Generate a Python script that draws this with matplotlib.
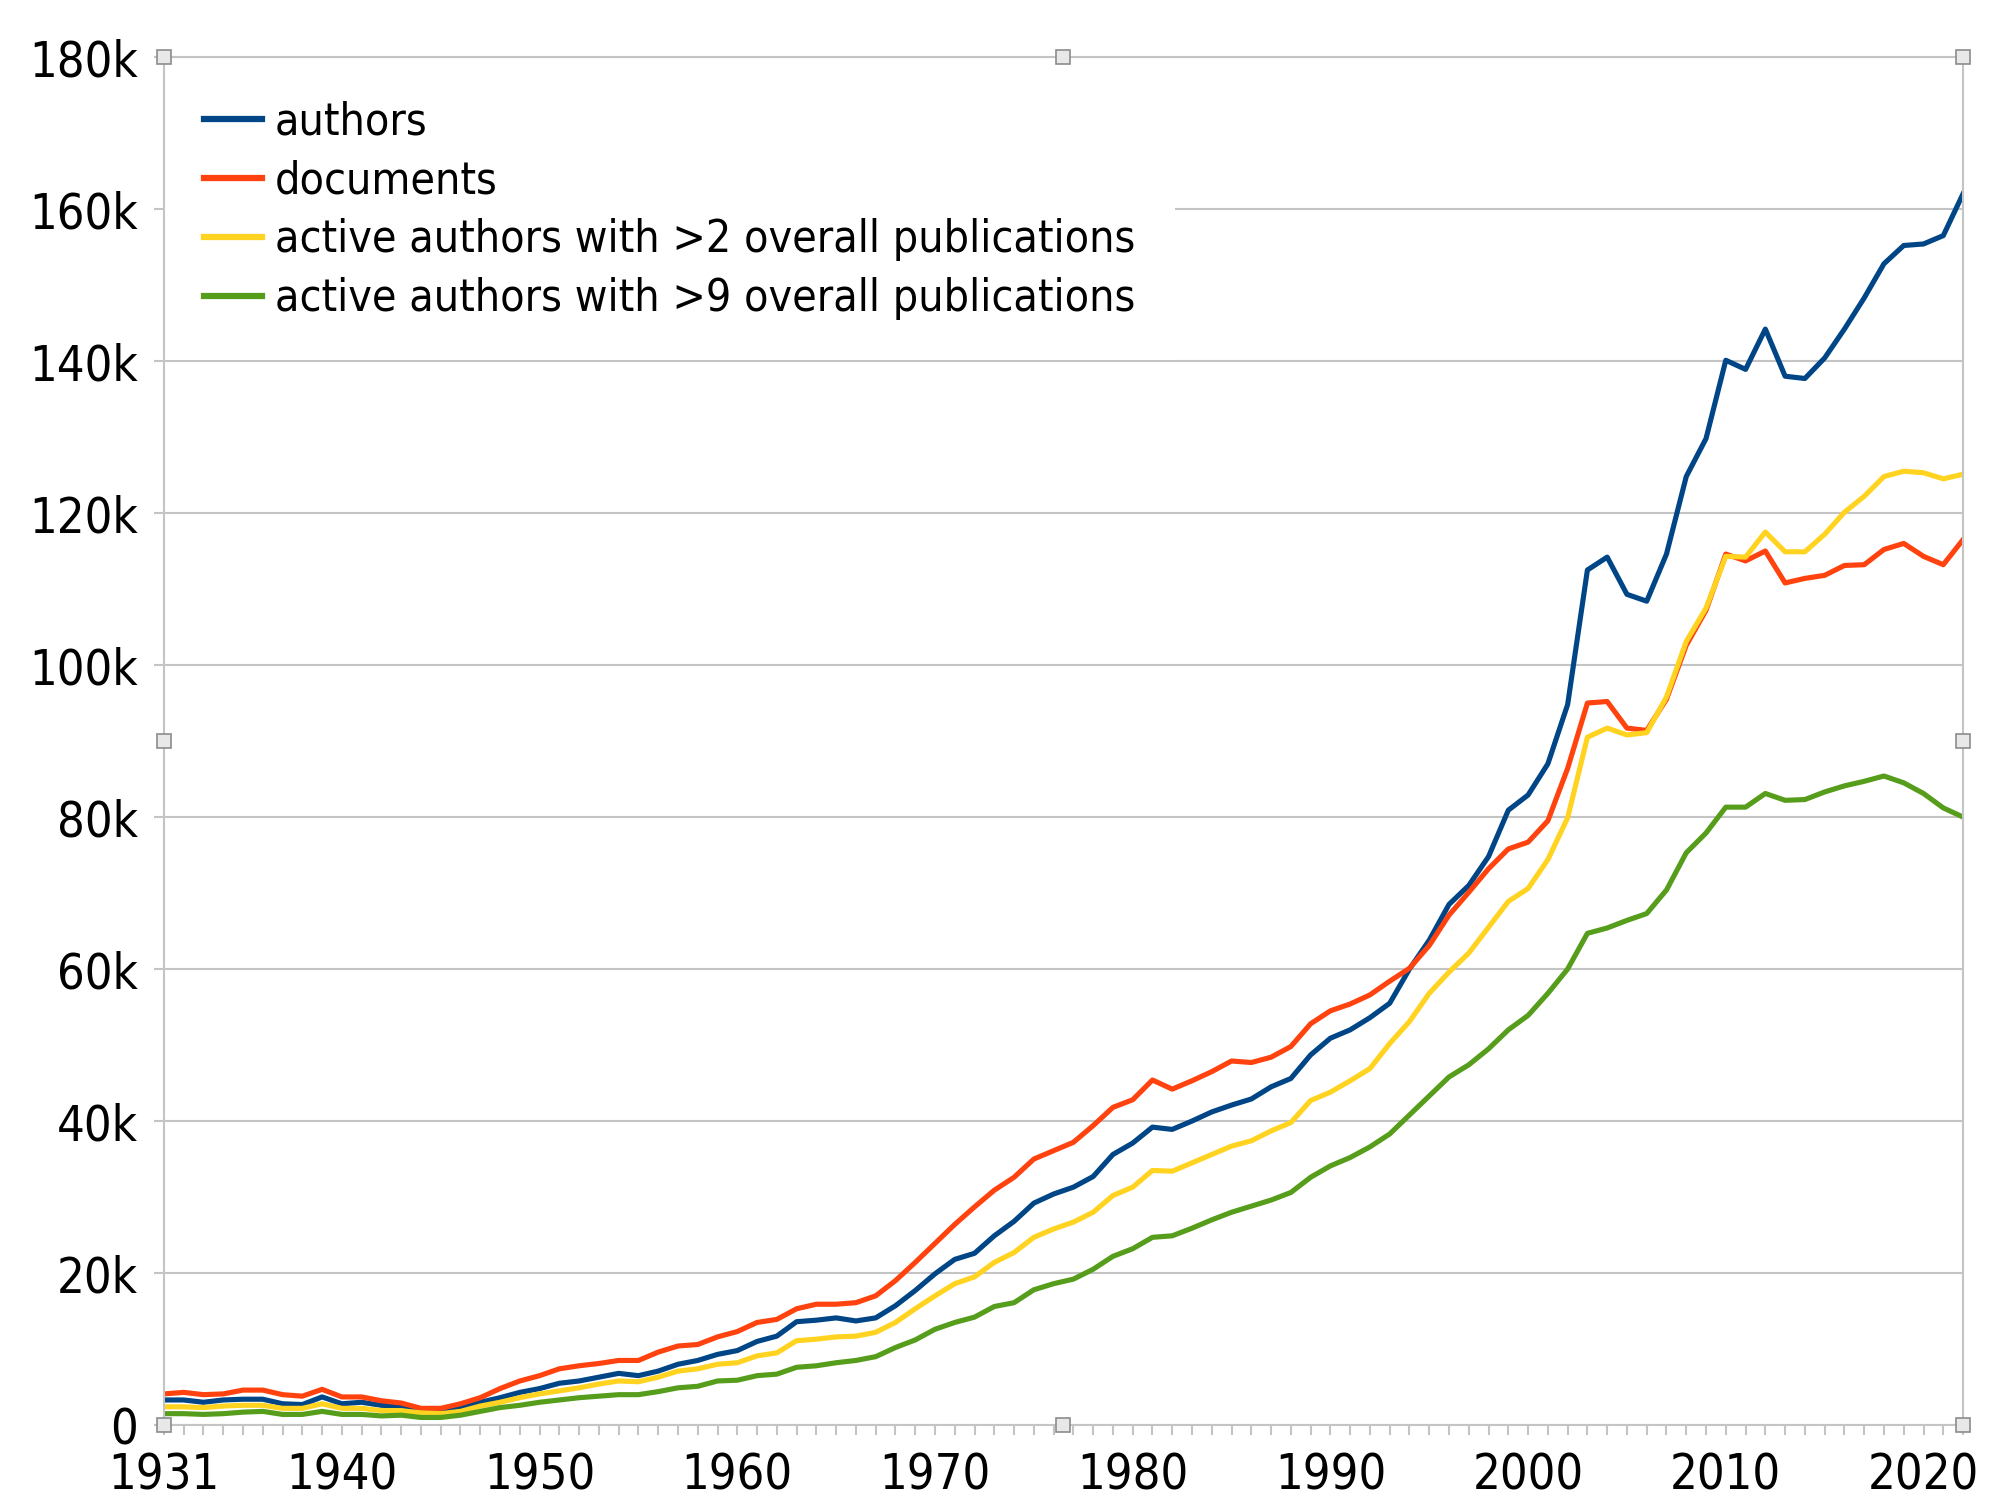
import numpy as np
import matplotlib
matplotlib.use("Agg")
from matplotlib import pyplot as plt
from matplotlib import font_manager
from matplotlib.ticker import FuncFormatter

# values in thousands, one per year 1931..2022
years = np.arange(1931, 2023)

authors = [3.3, 3.3, 3.0, 3.3, 3.4, 3.4, 2.8, 2.7, 3.7, 2.8,
           3.0, 2.6, 2.5, 2.1, 1.9, 2.3, 3.0, 3.6, 4.3, 4.8,
           5.5, 5.8, 6.3, 6.8, 6.5, 7.1, 8.0, 8.5, 9.3, 9.8,
           11.0, 11.7, 13.6, 13.8, 14.1, 13.7, 14.1, 15.7, 17.7, 19.9,
           21.8, 22.6, 24.9, 26.8, 29.2, 30.4, 31.3, 32.7, 35.6, 37.1,
           39.2, 38.9, 40.0, 41.2, 42.1, 42.9, 44.5, 45.6, 48.7, 50.9,
           52.0, 53.6, 55.5, 60.0, 63.8, 68.5, 71.0, 74.8, 80.9, 82.9,
           87.0, 94.8, 112.5, 114.2, 109.3, 108.4, 114.6, 124.8, 129.8, 140.1,
           138.9, 144.2, 138.0, 137.7, 140.4, 144.2, 148.3, 152.8, 155.2, 155.4,
           156.5, 162.0]

documents = [4.1, 4.3, 4.0, 4.1, 4.6, 4.6, 4.0, 3.8, 4.7, 3.7,
             3.7, 3.2, 2.9, 2.2, 2.2, 2.8, 3.6, 4.8, 5.8, 6.5,
             7.4, 7.8, 8.1, 8.5, 8.5, 9.6, 10.4, 10.6, 11.6, 12.3,
             13.5, 13.9, 15.3, 15.9, 15.9, 16.1, 17.0, 19.0, 21.4, 23.9,
             26.4, 28.7, 30.9, 32.6, 35.0, 36.1, 37.2, 39.4, 41.8, 42.8,
             45.4, 44.2, 45.3, 46.5, 47.9, 47.7, 48.4, 49.8, 52.8, 54.5,
             55.4, 56.6, 58.4, 60.1, 63.1, 67.1, 70.1, 73.2, 75.8, 76.7,
             79.5, 86.4, 95.0, 95.2, 91.7, 91.4, 95.5, 102.6, 107.2, 114.6,
             113.7, 115.0, 110.8, 111.4, 111.8, 113.1, 113.2, 115.2, 116.0, 114.3,
             113.2, 116.5]

active_gt2 = [2.4, 2.4, 2.3, 2.5, 2.6, 2.6, 2.2, 2.2, 2.8, 2.2,
              2.2, 1.9, 1.9, 1.6, 1.5, 1.8, 2.5, 3.0, 3.6, 4.1,
              4.5, 4.9, 5.4, 5.8, 5.7, 6.3, 7.1, 7.4, 8.0, 8.2,
              9.1, 9.5, 11.1, 11.3, 11.6, 11.7, 12.2, 13.5, 15.3, 17.0,
              18.6, 19.5, 21.4, 22.7, 24.7, 25.8, 26.7, 28.0, 30.2, 31.3,
              33.5, 33.4, 34.5, 35.6, 36.7, 37.4, 38.7, 39.8, 42.7, 43.8,
              45.3, 46.9, 50.2, 53.1, 56.8, 59.6, 62.1, 65.5, 68.9, 70.6,
              74.4, 79.9, 90.5, 91.7, 90.8, 91.1, 95.8, 103.1, 107.5, 114.3,
              114.2, 117.5, 114.9, 114.9, 117.2, 120.1, 122.2, 124.8, 125.5, 125.3,
              124.5, 125.1]

active_gt9 = [1.5, 1.5, 1.4, 1.5, 1.7, 1.8, 1.4, 1.4, 1.8, 1.4,
              1.4, 1.2, 1.3, 1.0, 1.0, 1.3, 1.8, 2.3, 2.6, 3.0,
              3.3, 3.6, 3.8, 4.0, 4.0, 4.4, 4.9, 5.1, 5.8, 5.9,
              6.5, 6.7, 7.6, 7.8, 8.2, 8.5, 9.0, 10.2, 11.2, 12.6,
              13.5, 14.2, 15.6, 16.1, 17.8, 18.6, 19.2, 20.5, 22.2, 23.2,
              24.7, 24.9, 25.9, 27.0, 28.0, 28.8, 29.6, 30.6, 32.6, 34.1,
              35.2, 36.6, 38.3, 40.8, 43.3, 45.8, 47.4, 49.5, 52.0, 53.9,
              56.8, 60.0, 64.7, 65.4, 66.4, 67.3, 70.4, 75.3, 77.9, 81.3,
              81.3, 83.1, 82.2, 82.3, 83.3, 84.1, 84.7, 85.4, 84.5, 83.1,
              81.2, 80.0]

labels = ["authors", "documents",
          "active authors with >2 overall publications",
          "active authors with >9 overall publications"]
colors = ["#004586", "#ff420e", "#ffd320", "#579d1c"]
series = [authors, documents, active_gt2, active_gt9]

xlabel_years = [1931, 1940, 1950, 1960, 1970, 1980, 1990, 2000, 2010, 2020]

# pick a narrow face if one is installed
narrow = [f for f in font_manager.fontManager.ttflist
          if ("Narrow" in f.fname or "Condensed" in f.fname)
          and f.style == "normal" and f.weight in (400, "normal")]
if narrow:
    plt.rcParams['font.family'] = [narrow[0].name, "DejaVu Sans"]
    plt.rcParams['font.stretch'] = narrow[0].stretch
    fs, lfs = 35, 32
else:
    plt.rcParams['font.family'] = ["Open Sans", "DejaVu Sans"]
    fs, lfs = 30, 27

grid_c = "#c4c4c4"

fig = plt.figure(figsize=(20.14, 15.08), dpi=100)
ax = fig.add_axes([0.0814, 0.055, 0.8933, 0.9072])

for vals, lab, c in zip(series, labels, colors):
    ax.plot(years, np.array(vals) * 1000, color=c, lw=3.7, label=lab,
            solid_joinstyle='round')

ax.set_xlim(1931, 2022)
ax.set_ylim(0, 180000)
ax.set_yticks(np.arange(0, 180001, 20000))
ax.yaxis.set_major_formatter(FuncFormatter(lambda v, p: "0" if v == 0 else "%dk" % (v / 1000)))
ax.set_xticks(years)
ax.set_xticklabels([str(y) if y in xlabel_years else "" for y in years])

ax.yaxis.grid(True, color=grid_c, lw=1.5)
ax.set_axisbelow(True)
for s in ax.spines.values():
    s.set_color(grid_c)
    s.set_linewidth(1.5)
    s.set_zorder(6)
ax.tick_params(axis='both', colors=grid_c, labelcolor='black', labelsize=fs,
               width=1.5, length=7, direction='out')
ax.tick_params(axis='y', pad=12)
ax.tick_params(axis='x', pad=12)

# selection handles of the chart frame
ax.plot([0, 0.5, 1, 0, 1, 0, 0.5, 1], [1, 1, 1, 0.5, 0.5, 0, 0, 0], 's',
        transform=ax.transAxes, clip_on=False, ms=9.5, mfc='#e8e8e8',
        mec='#8c8c8c', mew=1.2, zorder=7)

leg = ax.legend(loc='upper left', bbox_to_anchor=(0, 0.9976), borderaxespad=0,
                frameon=True, fancybox=False, framealpha=1, facecolor='white',
                edgecolor='none', fontsize=lfs, handlelength=1.3,
                handletextpad=0.3, labelspacing=0.36, borderpad=0.9)
for h in leg.get_lines():
    h.set_linewidth(4.5)

fig.savefig("out.png", dpi=100)
